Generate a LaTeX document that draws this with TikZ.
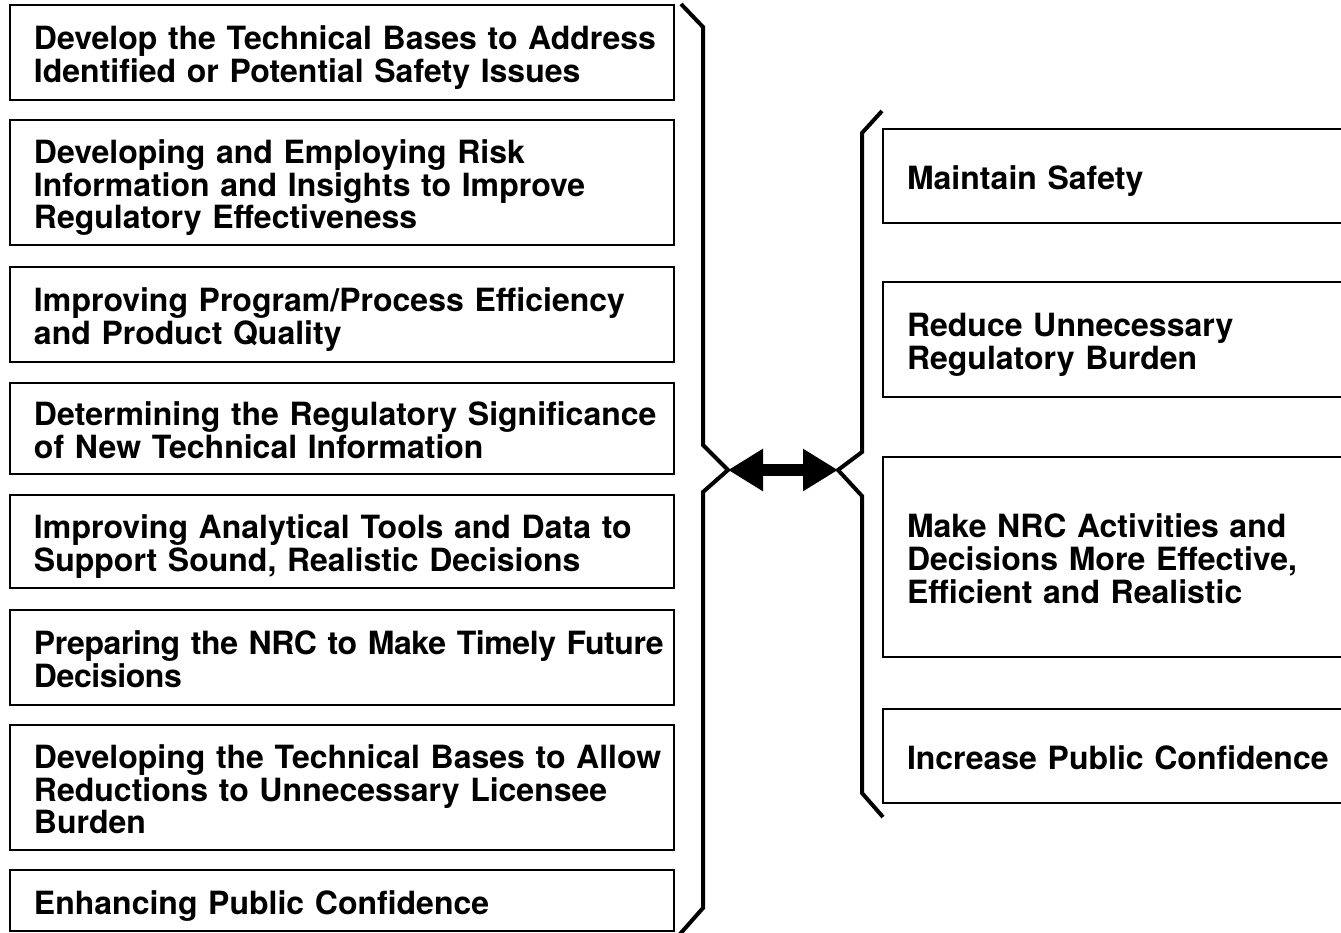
\documentclass[tikz,border=0pt]{standalone}
\usepackage{fontspec}
\setmainfont{TeX Gyre Heros}
\usepackage{tikz}
\usetikzlibrary{arrows.meta, positioning}
\tikzstyle{program} = [draw, line width=1pt, rectangle, outer sep=0pt, text width=326pt, inner xsep=3pt, inner ysep=0pt, align=left, font=\bfseries\fontsize{16}{16.3}\selectfont, execute at begin node={\leftskip=9pt\rightskip=-12pt plus 1fil\hyphenpenalty=10000\exhyphenpenalty=10000\vrule width 0pt height 17.5pt}, execute at end node={\vrule width 0pt depth 4pt}]
\tikzstyle{tight} = [font=\bfseries\fontsize{16}{16.3}\selectfont\addfontfeatures{LetterSpace=-1.3}]
\tikzstyle{outcome} = [program, text width=240pt]
\tikzstyle{brace} = [draw, line width=2pt, line join=miter]
\tikzstyle{line} = [draw, line width=6pt, {Triangle[length=17.5pt, width=20pt]}-{Triangle[length=17.5pt, width=20pt]}]

\begin{document}
\begin{tikzpicture}[x=0.5pt, y=-0.5pt, node distance=10pt]
        \useasboundingbox (0,0) rectangle (1341,933);
        \clip (0,0) rectangle (1341,933);

        \node [program, minimum height=47.5pt, anchor=north west] (bases) at (10,5) {Develop the Technical Bases to Address\\Identified or Potential Safety Issues};
        \node [program, minimum height=62.5pt, below=10pt of bases] (risk) {Developing and Employing Risk\\Information and Insights to Improve\\Regulatory Effectiveness};
        \node [program, minimum height=47.5pt, below=11pt of risk] (quality) {Improving Program/Process Efficiency\\and Product Quality};
        \node [program, minimum height=45.5pt, below=10.5pt of quality] (significance) {Determining the Regulatory Significance\\of New Technical Information};
        \node [program, minimum height=46.5pt, below=10.5pt of significance] (tools) {Improving Analytical Tools and Data to\\Support Sound, Realistic Decisions};
        \node [program, tight, minimum height=47.5pt, below=11pt of tools] (timely) {Preparing the NRC to Make Timely Future\\Decisions};
        \node [program, minimum height=62.5pt, below=10pt of timely] (licensee) {Developing the Technical Bases to Allow\\Reductions to Unnecessary Licensee\\Burden};
        \node [program, minimum height=30.5pt, below=10pt of licensee] (enhancing) {Enhancing Public Confidence};

        \node [outcome, minimum height=47pt, anchor=north west] (safety) at (883,129) {Maintain Safety};
        \node [outcome, minimum height=57.5pt, below=29.5pt of safety] (burden) {Reduce Unnecessary\\Regulatory Burden};
        \node [outcome, minimum height=100pt, below=30pt of burden] (effective) {Make NRC Activities and\\Decisions More Effective,\\Efficient and Realistic};
        \node [outcome, minimum height=47pt, below=26pt of effective] (confidence) {Increase Public Confidence};

        \coordinate (ltip) at (728,470);
        \coordinate (rtip) at (838,470);
        \draw [brace] (681,4) -- (703,27) -- (703,445) -- (ltip) -- (703,492) -- (703,908) -- (680,934);
        \draw [brace] (882,111) -- (862,133) -- (862,452) -- (rtip) -- (862,496) -- (862,793) -- (883,817);

        \path [line] (ltip) -- (rtip);
    \end{tikzpicture}
\end{document}
